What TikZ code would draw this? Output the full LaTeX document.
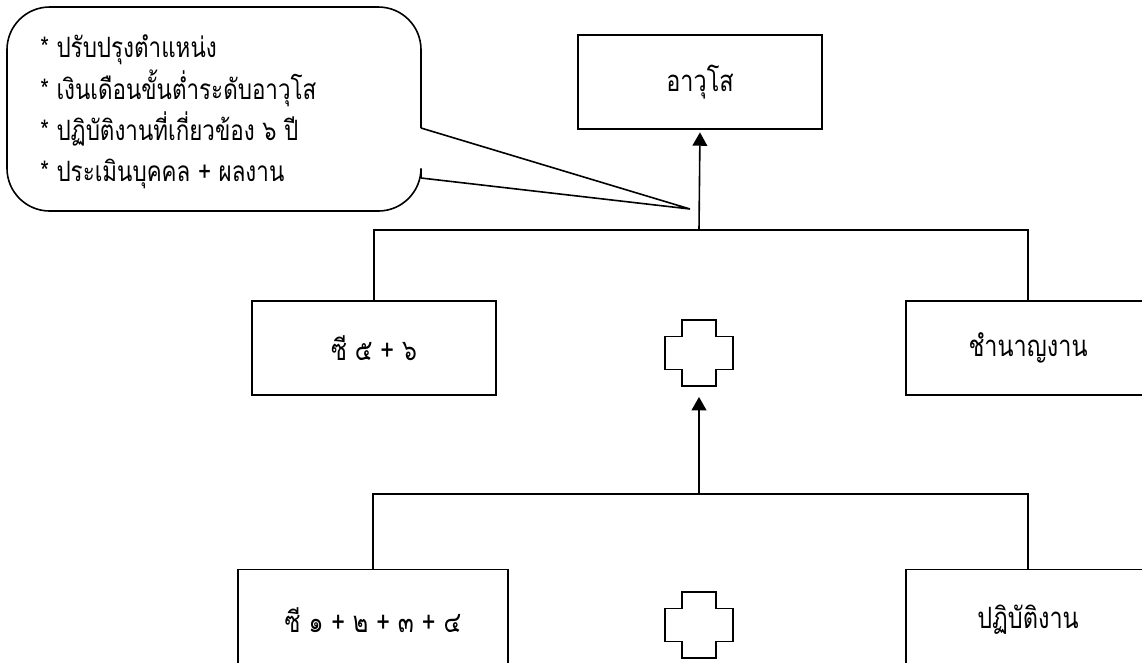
\documentclass[tikz,border=0pt]{standalone}
\usepackage{fontspec}
\newfontfamily\thai[Script=Thai, FakeStretch=0.8]{Loma}
\usetikzlibrary{arrows.meta}

\tikzset{
  box/.style={draw, line width=1.1pt, minimum width=183pt, minimum height=70.5pt,
    font=\thai\fontsize{22}{26}\selectfont},
  link/.style={line width=1.2pt},
  up/.style={link, -{Triangle[width=11pt,length=10pt]}},
  plusmark/.pic={
    \draw[line width=1.1pt] (-17,-33) -- (17,-33) -- (17,-16.5) -- (34,-16.5)
      -- (34,16.5) -- (17,16.5) -- (17,33) -- (-17,33) -- (-17,16.5)
      -- (-34,16.5) -- (-34,-16.5) -- (-17,-16.5) -- cycle;}
}

\begin{document}
\begin{tikzpicture}[x=0.75pt, y=-0.75pt]
    \useasboundingbox (0,0) rectangle (1142,662);
    % callout
    \draw[link, rounded corners=32] (421,178) -- (421,211) -- (7,211)
      -- (7,7) -- (421,7) -- (421,128);
    \draw[link] (421,128) -- (690,209) -- (421,178);
    \node[anchor=west, align=left, inner sep=0pt,
      font=\thai\fontsize{21}{31}\selectfont] (note) at (40,112)
      {* ปรับปรุงตำแหน่ง\\
       * เงินเดือนขั้นต่ำระดับอาวุโส\\
       * ปฏิบัติงานที่เกี่ยวข้อง ๖ ปี\\
       * ประเมินบุคคล + ผลงาน};

    \node[box] (avuso) at (700,82) {อาวุโส};
    \coordinate (jA) at (699,230);
    \coordinate (jB) at (699,494);

    % second row
    \node[box] (c56) at (374,348) {ซี ๕ + ๖};
    \node[box] (chamnan) at (1028,348) {ชำนาญงาน};
    \node[minimum width=51pt, minimum height=49.5pt, inner sep=0pt] (plusA) at (699,353) {};
    \pic at (plusA) {plusmark};
    \draw[link] (c56.north) |- (jA) -| (chamnan.north);
    \draw[up, shorten >=2pt] (jA) -- (avuso.south);

    % third row
    \node[box, minimum width=202.5pt, minimum height=75pt, anchor=north] (c1234) at (373,569)
      {ซี ๑ + ๒ + ๓ + ๔};
    \node[box, minimum height=75pt, anchor=north] (patibat) at (1028,569) {ปฏิบัติงาน};
    \node[minimum width=51pt, minimum height=49.5pt, inner sep=0pt] (plusB) at (699,625) {};
    \pic at (plusB) {plusmark};
    \draw[link] (c1234.north) |- (jB) -| (patibat.north);
    \draw[up, shorten >=8pt] (jB) -- (plusA.south);
\end{tikzpicture}
\end{document}
